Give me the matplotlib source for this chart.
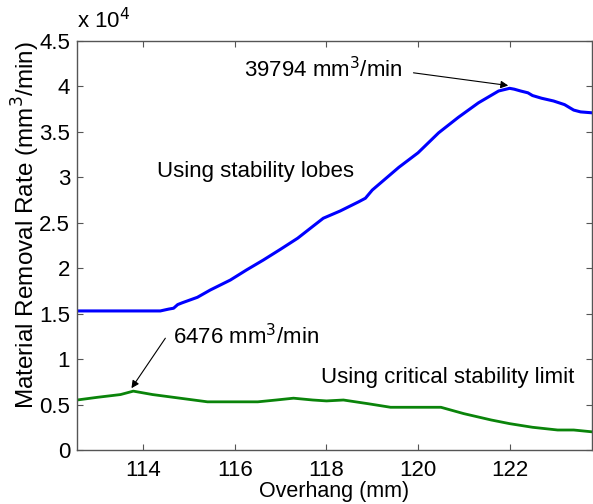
import matplotlib
matplotlib.use("Agg")
import matplotlib.pyplot as plt
from matplotlib.ticker import FuncFormatter

plt.rcParams['font.family'] = ['Liberation Sans', 'DejaVu Sans']

# ---- data ----
# overhang (mm) vs material removal rate (mm^3/min)
lobes_x = [112.55, 113.5, 114.37, 114.55, 114.66, 114.75, 114.85, 115.18, 115.46,
           115.9, 116.25, 116.62, 117.0, 117.37, 117.7, 117.93, 118.3, 118.7,
           118.85, 119.0, 119.58, 120.0, 120.45, 120.88, 121.32, 121.76, 122.0,
           122.1, 122.24, 122.4, 122.5, 122.7, 122.96, 123.2, 123.4, 123.55, 123.8]
lobes_y = [15300, 15300, 15300, 15500, 15600, 16000, 16200, 16800, 17600,
           18700, 19800, 20900, 22100, 23300, 24600, 25500, 26300, 27300,
           27700, 28600, 31100, 32700, 34900, 36600, 38200, 39500, 39794,
           39700, 39500, 39300, 39000, 38700, 38400, 38000, 37400, 37200, 37100]

crit_x = [112.55, 113.0, 113.5, 113.78, 114.2, 114.8, 115.4, 116.5, 116.9,
          117.28, 117.7, 118.0, 118.37, 118.9, 119.4, 120.5, 121.0, 121.6,
          122.0, 122.5, 123.05, 123.4, 123.8]
crit_y = [5500, 5800, 6100, 6476, 6100, 5700, 5300, 5300, 5500,
          5700, 5500, 5400, 5500, 5100, 4700, 4700, 4000, 3300,
          2900, 2500, 2200, 2200, 2000]

xticks = [114, 116, 118, 120, 122]
yticks = [0, 5000, 10000, 15000, 20000, 25000, 30000, 35000, 40000, 45000]

fig = plt.figure(figsize=(5.93, 5.04), dpi=100)
ax = fig.add_axes([77 / 593, 54 / 504, 515 / 593, 409 / 504])

ax.plot(lobes_x, lobes_y, color='#0000ff', lw=2.2)
ax.plot(crit_x, crit_y, color='#0a840a', lw=2.0)

ax.set_xlim(112.55, 123.8)
ax.set_ylim(0, 45000)
ax.set_xticks(xticks)
ax.set_yticks(yticks)
ax.yaxis.set_major_formatter(FuncFormatter(lambda v, p: '%g' % (v / 1e4)))
ax.tick_params(direction='in', length=4, top=True, right=True,
               labelsize=16, color='#555555')
ax.tick_params(axis='y', pad=5)
ax.tick_params(axis='x', pad=7)
for s in ax.spines.values():
    s.set_color('#555555')
    s.set_linewidth(1.0)

ax.text(0.0, 1.018, r'x 10$^4$', transform=ax.transAxes, fontsize=16,
        ha='left', va='bottom')

ax.set_xlabel('Overhang (mm)', fontsize=15.5)
ax.xaxis.label.set_va('center')
ax.xaxis.set_label_coords(0.5, -0.102)
ax.set_ylabel('Material Removal Rate (mm$^3$/min)', fontsize=17.5)
ax.yaxis.label.set_va('center')
ax.yaxis.set_label_coords(-0.1, 0.55)

# annotations (arrows drawn separately from their labels)
ax.annotate('', xy=(121.97, 40100), xytext=(119.9, 41500),
            arrowprops=dict(arrowstyle='-|>', color='black', lw=0.8,
                            shrinkA=0, shrinkB=0, mutation_scale=11))
ax.text(116.2, 41800, '39794 mm$^3$/min', fontsize=16, va='center', ha='left')
ax.annotate('', xy=(113.74, 6800), xytext=(114.48, 12300),
            arrowprops=dict(arrowstyle='-|>', color='black', lw=0.8,
                            shrinkA=0, shrinkB=0, mutation_scale=11))
ax.text(114.65, 12500, '6476 mm$^3$/min', fontsize=16, va='center', ha='left')
ax.text(114.3, 30600, 'Using stability lobes', fontsize=16, va='center', ha='left')
ax.text(117.88, 8000, 'Using critical stability limit', fontsize=16,
        va='center', ha='left')

fig.savefig('out.png', dpi=100)
